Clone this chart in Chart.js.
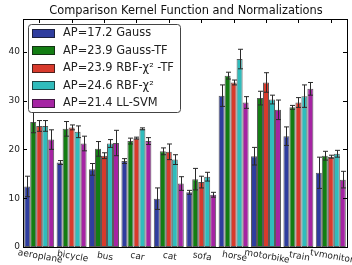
<!DOCTYPE html>
<html>
<head>
<meta charset="utf-8">
<script src="https://cdn.jsdelivr.net/npm/chart.js@4.4.1/dist/chart.umd.min.js"></script>
<style>
  html, body { margin:0; padding:0; background:#fff; }
  #c { display:block; }
</style>
</head>
<body>
<canvas id="c" width="352" height="265"></canvas>
<script>
// values
const categories = ['aeroplane','bicycle','bus','car','cat','sofa','horse','motorbike','train','tvmonitor'];
const seriesLabels = ['AP=17.2 Gauss','AP=23.9 Gauss-TF','AP=23.9 RBF-χ² -TF','AP=24.6 RBF-χ²','AP=21.4 LL-SVM'];
const gauss      = [12.4, 17.3, 15.9, 17.6,  9.9, 11.2, 31.0, 18.6, 22.7, 15.2];
const gaussErr   = [ 2.1,  0.4,  1.2,  0.5,  2.2,  0.4,  2.2,  1.8,  1.9,  3.2];
const gaussTF    = [25.6, 24.2, 20.1, 21.7, 19.6, 13.9, 35.1, 30.5, 28.6, 18.7];
const gaussTFErr = [ 2.2,  1.5,  1.5,  0.6,  0.7,  2.2,  0.7,  1.4,  0.4,  0.9];
const rbfTF      = [24.8, 24.5, 18.7, 22.3, 19.5, 13.3, 33.7, 33.7, 29.6, 18.5];
const rbfTFErr   = [ 1.1,  0.5,  0.6,  0.2,  1.6,  1.2,  0.5,  2.0,  1.0,  0.3];
const rbf        = [24.8, 23.6, 21.2, 24.2, 17.9, 14.4, 38.5, 30.2, 30.9, 19.1];
const rbfErr     = [ 1.1,  1.2,  0.8,  0.2,  1.0,  0.9,  2.0,  0.9,  2.3,  0.7];
const llsvm      = [22.0, 21.2, 21.3, 21.7, 13.0, 10.7, 29.6, 28.1, 32.4, 13.8];
const llsvmErr   = [ 2.0,  1.5,  2.6,  0.7,  1.4,  0.5,  1.2,  2.0,  1.3,  1.7];
const yTicks = [0, 10, 20, 30, 40];
const yMax = 46.7;
const title = 'Comparison Kernel Function and Normalizations';

const colors = ['#2f3d9e', '#137d13', '#d83a2c', '#30bcbc', '#a524a3'];
const values = [gauss, gaussTF, rbfTF, rbf, llsvm];
const errors = [gaussErr, gaussTFErr, rbfTFErr, rbfErr, llsvmErr];

const FONT = "'DejaVu Sans', sans-serif";
Chart.defaults.font.family = FONT;

const datasets = values.map((v, i) => ({
  label: seriesLabels[i],
  data: v,
  backgroundColor: colors[i],
  borderColor: 'rgba(20,20,20,0.7)',
  borderWidth: 1,
  borderSkipped: false,
  categoryPercentage: 0.925,
  barPercentage: 1.0
}));

// error bars, frame, inward ticks, rotated x labels, title
const decorations = {
  id: 'decorations',
  afterDatasetsDraw(chart) {
    const ctx = chart.ctx, y = chart.scales.y;
    ctx.save();
    ctx.strokeStyle = '#2a2a2a';
    ctx.lineWidth = 1;
    datasets.forEach((d, i) => {
      chart.getDatasetMeta(i).data.forEach((bar, j) => {
        const x = Math.round(bar.x) + 0.5;
        const t = y.getPixelForValue(values[i][j] + errors[i][j]);
        const b = y.getPixelForValue(values[i][j] - errors[i][j]);
        ctx.beginPath();
        ctx.moveTo(x, t); ctx.lineTo(x, b);
        ctx.moveTo(x - 2.5, t); ctx.lineTo(x + 2.5, t);
        ctx.moveTo(x - 2.5, b); ctx.lineTo(x + 2.5, b);
        ctx.stroke();
      });
    });
    ctx.restore();
  },
  afterDraw(chart) {
    const ctx = chart.ctx, a = chart.chartArea;
    const x = chart.scales.x, y = chart.scales.y;
    ctx.save();
    ctx.strokeStyle = '#000';
    ctx.lineWidth = 1;
    ctx.strokeRect(Math.round(a.left) + 0.5, Math.round(a.top) + 0.5,
                   Math.round(a.right - a.left), Math.round(a.bottom - a.top));
    ctx.beginPath();
    yTicks.forEach(v => {
      const p = Math.round(y.getPixelForValue(v)) + 0.5;
      ctx.moveTo(a.left, p); ctx.lineTo(a.left + 4, p);
      ctx.moveTo(a.right, p); ctx.lineTo(a.right - 4, p);
    });
    categories.forEach((c, i) => {
      const p = Math.round(x.getPixelForValue(i)) + 0.5;
      ctx.moveTo(p, a.top); ctx.lineTo(p, a.top + 4);
    });
    ctx.stroke();

    // x labels, rotated clockwise
    ctx.fillStyle = '#222';
    ctx.font = '9px ' + FONT;
    ctx.textAlign = 'center';
    ctx.textBaseline = 'middle';
    categories.forEach((c, i) => {
      ctx.save();
      ctx.translate(x.getPixelForValue(i) + 1, a.bottom + 9.5);
      ctx.rotate(10 * Math.PI / 180);
      ctx.fillText(c, 0, 0);
      ctx.restore();
    });

    // title
    ctx.font = '11.4px ' + FONT;
    ctx.fillStyle = '#111';
    ctx.fillText(title, (a.left + a.right) / 2 + 1, 11);

    // legend box inside the plot
    const lx = 28.5, ly = 24.5, lw = 152, lh = 88;
    ctx.beginPath();
    ctx.roundRect(lx, ly, lw, lh, 3);
    ctx.fillStyle = '#fff';
    ctx.fill();
    ctx.strokeStyle = '#444';
    ctx.stroke();
    ctx.font = '11.4px ' + FONT;
    ctx.textAlign = 'left';
    seriesLabels.forEach((s, i) => {
      const cy = 33 + i * 17.5;
      ctx.fillStyle = colors[i];
      ctx.fillRect(32, Math.round(cy - 4.5), 23, 9);
      ctx.strokeStyle = 'rgba(20,20,20,0.7)';
      ctx.strokeRect(32.5, Math.round(cy - 4.5) + 0.5, 22, 8);
      ctx.fillStyle = '#222';
      ctx.fillText(s, 63, cy + 0.5);
    });
    ctx.restore();
  }
};

new Chart(document.getElementById('c'), {
  type: 'bar',
  data: { labels: categories, datasets },
  options: {
    animation: false,
    responsive: false,
    layout: { padding: { top: 19, right: 5, left: 0, bottom: 0 } },
    plugins: { legend: { display: false }, title: { display: false }, tooltip: { enabled: false } },
    scales: {
      x: {
        grid: { display: false, drawTicks: false },
        border: { display: false },
        ticks: { display: false },
        afterFit: s => { s.height = 18; }
      },
      y: {
        min: 0, max: yMax,
        grid: { display: false, drawTicks: false },
        border: { display: false },
        afterBuildTicks: s => { s.ticks = yTicks.map(v => ({ value: v })); },
        afterFit: s => { s.width = 23; },
        ticks: { color: '#222', font: { size: 9 }, padding: 3 }
      }
    }
  },
  plugins: [decorations]
});
</script>
</body>
</html>
